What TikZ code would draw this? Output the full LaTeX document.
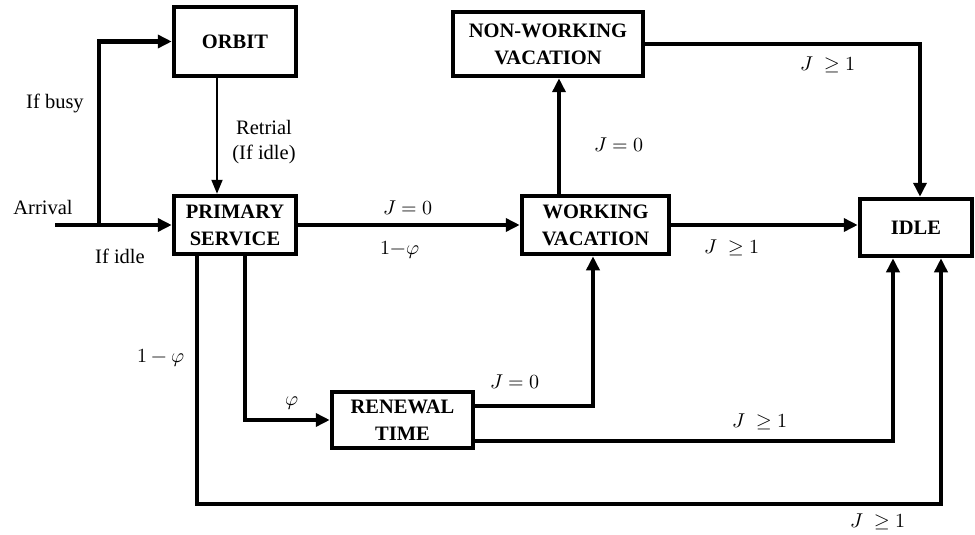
\documentclass[tikz,border=0pt]{standalone}
\usepackage{fontspec}
\usepackage{unicode-math}
\setmainfont{Liberation Serif}
\setmathfont{Latin Modern Math}
\usetikzlibrary{arrows.meta}
\tikzset{
  stbox/.style={draw, line width=4.5pt, inner sep=0pt, align=center, font=\fontsize{20.5}{27}\selectfont\bfseries},
  flow/.style={line width=4.5pt, -{Triangle[length=14pt,width=13pt]}},
  thinflow/.style={line width=2pt, -{Triangle[length=14pt,width=11pt]}},
  lbl/.style={font=\fontsize{20.5}{25}\selectfont, inner sep=0pt, align=center},
  mlbl/.style={font=\fontsize{20}{24}\selectfont, inner sep=0pt}
}
\begin{document}
\begin{tikzpicture}[x=1pt,y=-1pt]
\useasboundingbox[fill=white] (0,0) rectangle (975,535);
% boxes
\node[stbox, minimum width=122pt, minimum height=69pt] (orbit) at (235,41.5) {ORBIT};
\node[stbox, minimum width=122pt, minimum height=58pt] (prim) at (235,225) {PRIMARY\\SERVICE};
\node[stbox, minimum width=190pt, minimum height=64pt] (nwv) at (548,44) {NON-WORKING\\VACATION};
\node[stbox, minimum width=147pt, minimum height=58pt] (wv) at (595.5,225) {WORKING\\VACATION};
\node[stbox, minimum width=112pt, minimum height=57pt] (idle) at (916,227.5) {IDLE};
\node[stbox, minimum width=141pt, minimum height=56pt] (ren) at (402.5,420) {RENEWAL\\TIME};
% helper coordinates
\coordinate (arr) at (55,225);
\coordinate (br) at (99,225);
\coordinate (x217) at (217,0);
\coordinate (x559) at (559,0);
\coordinate (x920) at (920,0);
\coordinate (x245) at (245,0);
\coordinate (x197) at (197,0);
\coordinate (x593) at (593,0);
\coordinate (x893) at (893,0);
\coordinate (c1) at (941,504);
% connectors
\draw[flow] (arr) -- (prim.west);
\draw[flow] (br) |- (orbit.west);
\draw[thinflow] (orbit.south -| x217) -- (prim.north -| x217);
\draw[flow] (prim.east) -- (wv.west);
\draw[flow] (wv.north -| x559) -- (nwv.south -| x559);
\draw[flow] (nwv.east) -| (idle.north -| x920);
\draw[flow] (wv.east) -- (idle.west |- wv.east);
\draw[flow] (prim.south -| x245) |- (ren.west);
\draw[flow] (prim.south -| x197) |- (c1) -- (idle.south -| c1);
\draw[flow] ([yshift=14pt]ren.east) -| (wv.south -| x593);
\draw[flow] ([yshift=-21pt]ren.east) -| (idle.south -| x893);
% labels
\node[lbl] (lbusy) at (55,103) {If busy};
\node[lbl] (larr) at (43,207) {Arrival};
\node[lbl] (lidle) at (120,256) {If idle};
\node[lbl] (lret) at (264,142) {Retrial\\(If idle)};
\node[mlbl] (l1) at (408,208) {$J=0$};
\node[mlbl] (l2) at (400,250) {$1{-}\varphi$};
\node[mlbl] (l3) at (619,145) {$J=0$};
\node[mlbl] (l4) at (828,65) {$J\ \geq 1$};
\node[mlbl] (l5) at (732,248) {$J\ \geq 1$};
\node[mlbl] (l6) at (161,358) {$1-\varphi$};
\node[mlbl] (l7) at (292,403) {$\varphi$};
\node[mlbl] (l8) at (515,382) {$J=0$};
\node[mlbl] (l9) at (760,422) {$J\ \geq 1$};
\node[mlbl] (l10) at (878,522) {$J\ \geq 1$};
\end{tikzpicture}
\end{document}
